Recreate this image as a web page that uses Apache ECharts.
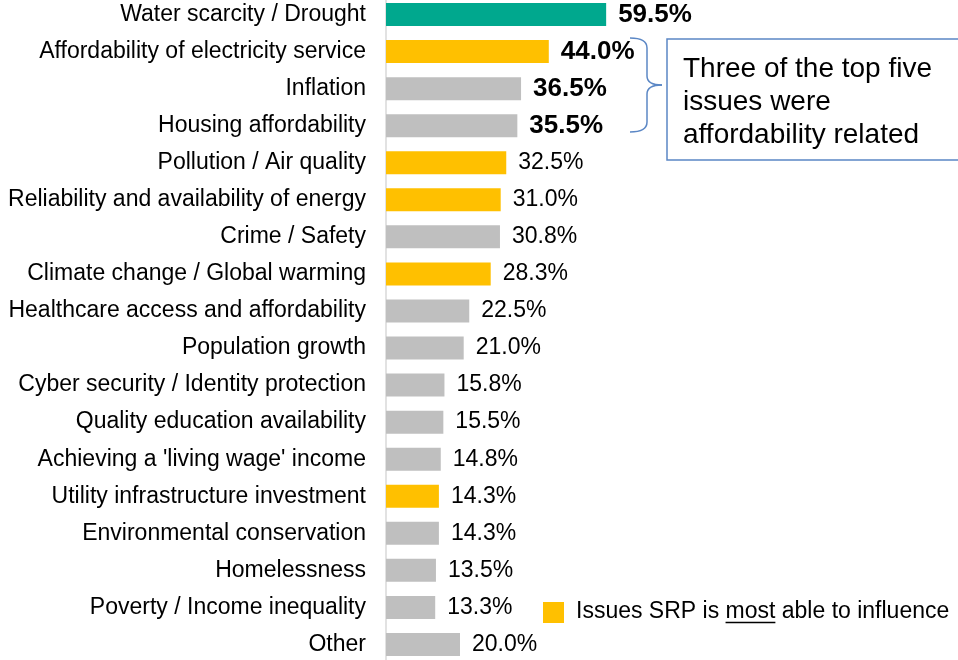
<!DOCTYPE html>
<html>
<head>
<meta charset="utf-8">
<script src="https://cdn.jsdelivr.net/npm/echarts@6/dist/echarts.min.js"></script>
<style>
  html, body { margin: 0; padding: 0; background: #fff; }
  #chart { width: 958px; height: 660px; }
</style>
</head>
<body>
<div id="chart"></div>
<script>
// Community issues survey: share of respondents naming each issue
const categories = [
  'Water scarcity / Drought',
  'Affordability of electricity service',
  'Inflation',
  'Housing affordability',
  'Pollution / Air quality',
  'Reliability and availability of energy',
  'Crime / Safety',
  'Climate change / Global warming',
  'Healthcare access and affordability',
  'Population growth',
  'Cyber security / Identity protection',
  'Quality education availability',
  "Achieving a 'living wage' income",
  'Utility infrastructure investment',
  'Environmental conservation',
  'Homelessness',
  'Poverty / Income inequality',
  'Other'
];
const values = [59.5, 44.0, 36.5, 35.5, 32.5, 31.0, 30.8, 28.3, 22.5, 21.0, 15.8, 15.5, 14.8, 14.3, 14.3, 13.5, 13.3, 20.0];
// 'top' = leading issue, 'srp' = issue SRP is most able to influence, 'other' = everything else
const groups = ['top', 'srp', 'other', 'other', 'srp', 'srp', 'other', 'srp', 'other', 'other',
                'other', 'other', 'other', 'srp', 'other', 'other', 'other', 'other'];
const highlighted = [true, true, true, true, false, false, false, false, false,
                     false, false, false, false, false, false, false, false, false];
const calloutLines = ['Three of the top five', 'issues were', 'affordability related'];
const legendParts = ['Issues SRP is ', 'most', ' able to influence'];

const FONT = '"Liberation Sans", Arial, Helvetica, sans-serif';
const groupColors = { top: '#00A88E', srp: '#FFC000', other: '#BFBFBF' };
const blue = '#5B87C5';

const chart = echarts.init(document.getElementById('chart'), null, { renderer: 'canvas' });

const barData = values.map((v, i) => {
  const item = { value: v, itemStyle: { color: groupColors[groups[i]] } };
  if (highlighted[i]) {
    item.label = { fontWeight: 'bold', fontSize: 26 };
  }
  return item;
});

// text measurement for the underlined word in the legend note
const measureCtx = document.createElement('canvas').getContext('2d');
measureCtx.font = '23px ' + FONT;
const w1 = measureCtx.measureText(legendParts[0]).width;
const w2 = measureCtx.measureText(legendParts[1]).width;
const legendX = 576, legendY = 612;

const braceStyle = { fill: 'none', stroke: blue, lineWidth: 1.5 };

const option = {
  backgroundColor: '#fff',
  animation: false,
  grid: {
    left: 386, top: -4, width: 370, height: 667,
    containLabel: false,
    outerBoundsMode: 'none'
  },
  xAxis: {
    type: 'value', min: 0, max: 100,
    show: false
  },
  yAxis: {
    type: 'category',
    inverse: true,
    data: categories,
    axisLine: { show: true, lineStyle: { color: '#D9D9D9', width: 1.5 } },
    axisTick: { show: false },
    axisLabel: { color: '#000', fontSize: 23, fontFamily: FONT, margin: 20 },
    splitLine: { show: false }
  },
  series: [{
    type: 'bar',
    data: barData,
    barWidth: 23,
    label: {
      show: true,
      position: 'right',
      distance: 12,
      color: '#000',
      fontSize: 23,
      fontFamily: FONT,
      formatter: p => p.value.toFixed(1) + '%'
    }
  }],
  graphic: [
    // callout brace
    { type: 'bezierCurve', shape: { x1: 630, y1: 38, cpx1: 647, cpy1: 38, x2: 647, y2: 48 }, style: braceStyle },
    { type: 'line', shape: { x1: 647, y1: 48, x2: 647, y2: 76 }, style: braceStyle },
    { type: 'bezierCurve', shape: { x1: 647, y1: 76, cpx1: 647, cpy1: 85, x2: 662, y2: 85 }, style: braceStyle },
    { type: 'bezierCurve', shape: { x1: 662, y1: 85, cpx1: 647, cpy1: 85, x2: 647, y2: 94 }, style: braceStyle },
    { type: 'line', shape: { x1: 647, y1: 94, x2: 647, y2: 122 }, style: braceStyle },
    { type: 'bezierCurve', shape: { x1: 647, y1: 122, cpx1: 647, cpy1: 132, x2: 630, y2: 132 }, style: braceStyle },
    // callout box
    {
      type: 'rect',
      shape: { x: 667, y: 39, width: 320, height: 121 },
      style: { fill: '#fff', stroke: blue, lineWidth: 1.5 }
    },
    {
      type: 'text',
      x: 683, y: 53,
      style: {
        text: calloutLines.join('\n'),
        font: '28px ' + FONT,
        lineHeight: 33,
        fill: '#000',
        verticalAlign: 'top'
      }
    },
    // legend note
    {
      type: 'rect',
      shape: { x: 543, y: 602, width: 21, height: 21 },
      style: { fill: groupColors.srp }
    },
    {
      type: 'text', x: legendX, y: legendY,
      style: { text: legendParts[0], font: '23px ' + FONT, fill: '#000', verticalAlign: 'middle' }
    },
    {
      type: 'text', x: legendX + w1, y: legendY,
      style: { text: legendParts[1], font: '23px ' + FONT, fill: '#000', verticalAlign: 'middle' }
    },
    {
      type: 'text', x: legendX + w1 + w2, y: legendY,
      style: { text: legendParts[2], font: '23px ' + FONT, fill: '#000', verticalAlign: 'middle' }
    },
    {
      type: 'line',
      shape: { x1: legendX + w1, y1: 622.5, x2: legendX + w1 + w2, y2: 622.5 },
      style: { stroke: '#000', lineWidth: 1.5 }
    }
  ]
};

chart.setOption(option);
</script>
</body>
</html>
